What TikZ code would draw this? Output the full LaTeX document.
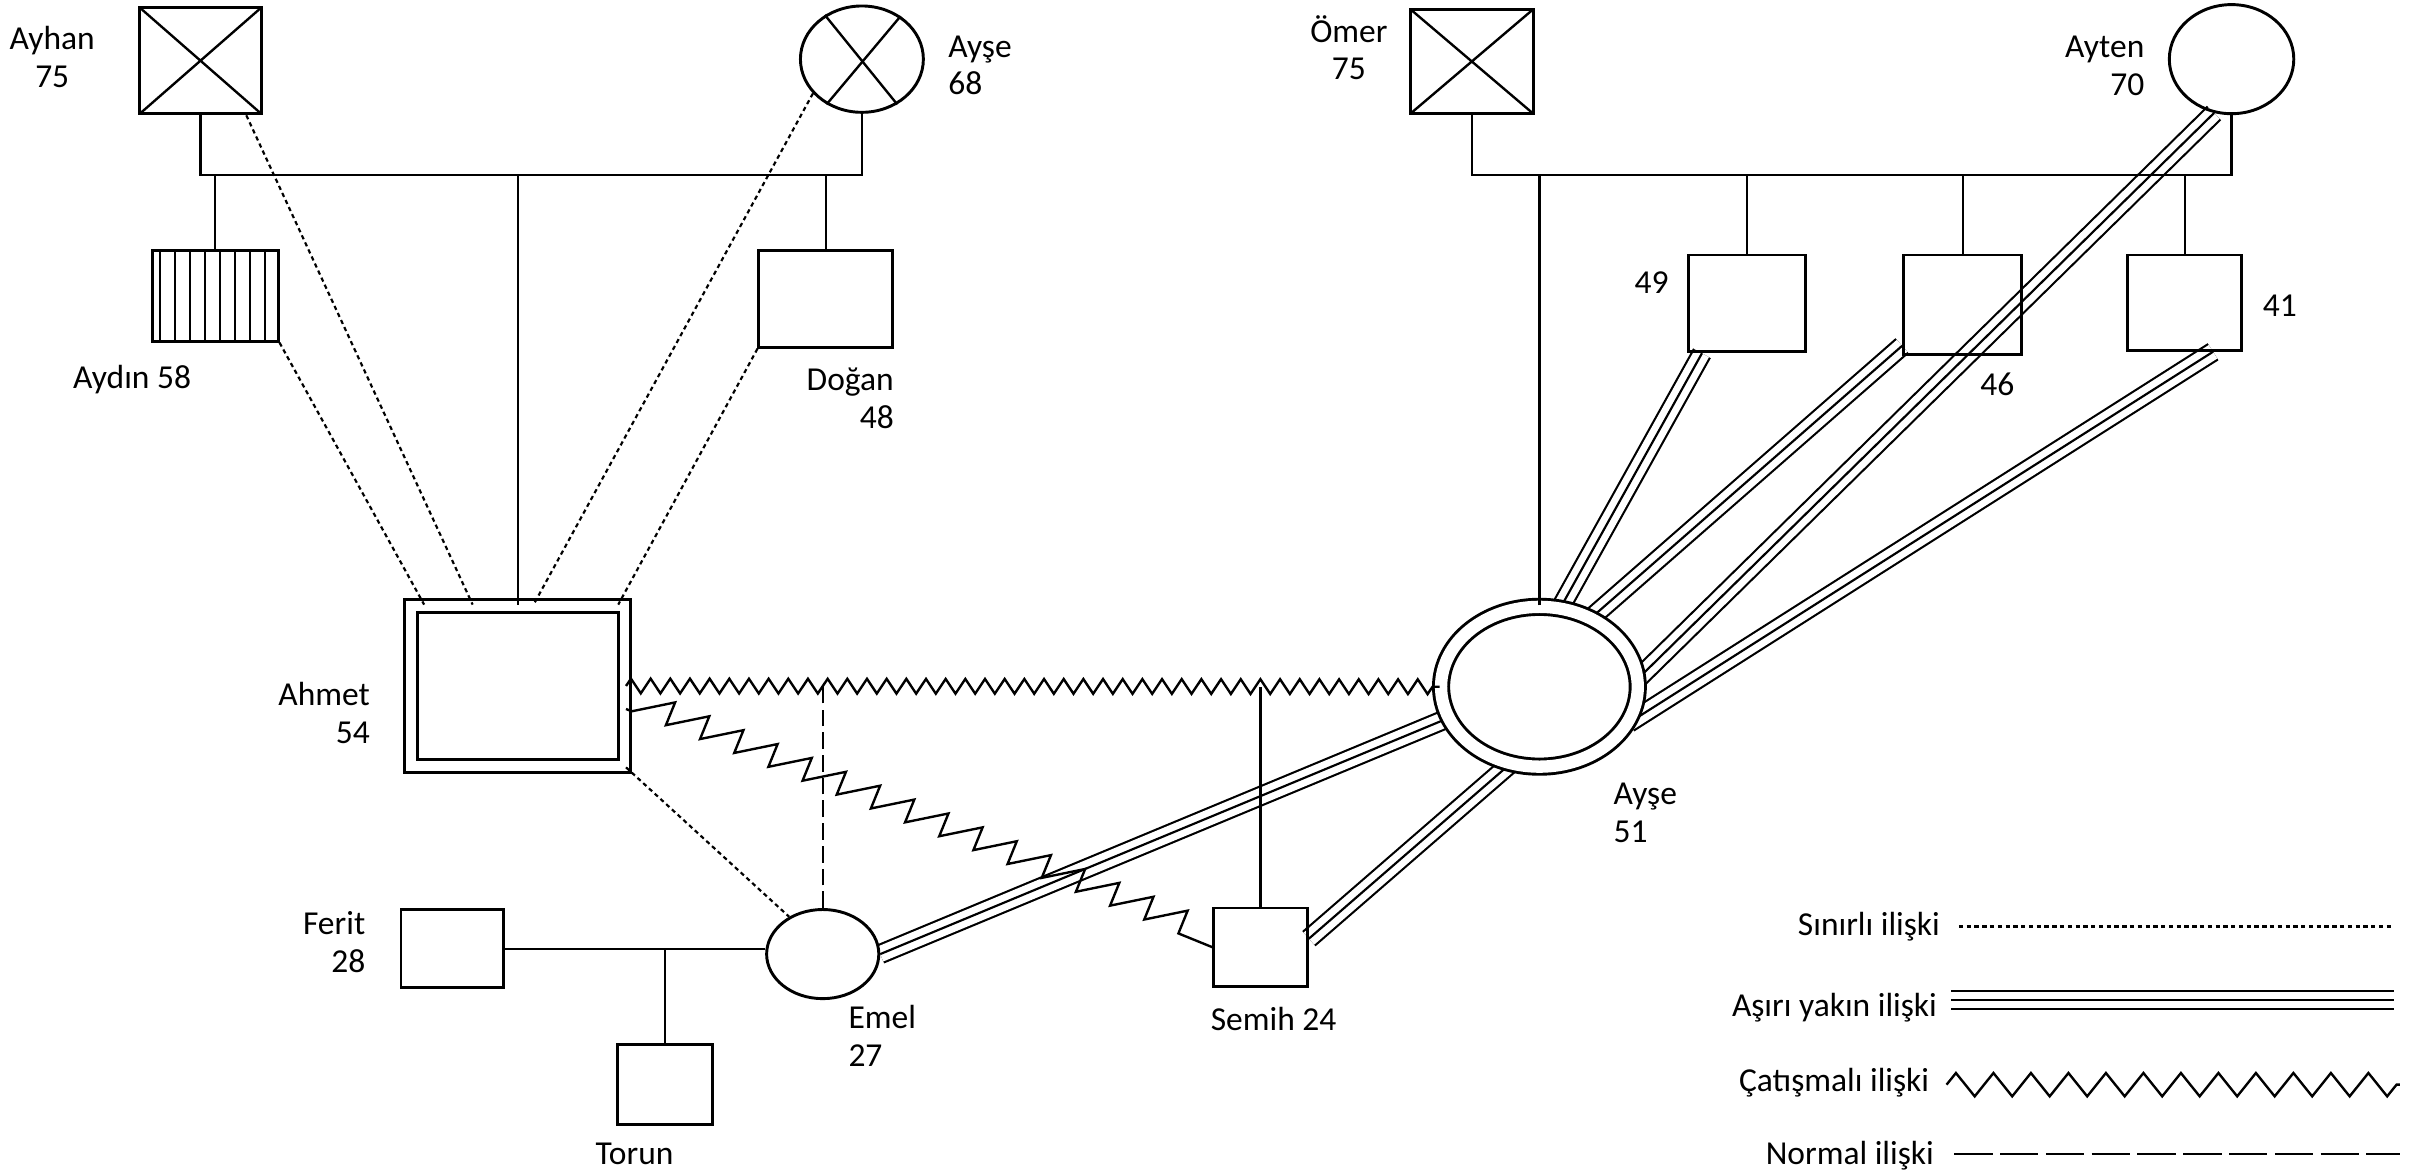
\documentclass[tikz,border=0pt]{standalone}
\usepackage{fontspec}
\setmainfont{Carlito}
\usetikzlibrary{shapes.geometric,decorations.pathmorphing,backgrounds,calc}

\begin{document}
\begin{tikzpicture}[x=0.025cm,y=-0.025cm,
  person/.style={draw,line width=1.35pt,inner sep=0pt},
  erkek/.style={person,rectangle},
  kadin/.style={person,ellipse},
  olu/.style={path picture={\draw[line width=1.1pt] (path picture bounding box.north west) -- (path picture bounding box.south east) (path picture bounding box.south west) -- (path picture bounding box.north east);}},
  lbl/.style={font=\fontsize{15.5}{17.5}\selectfont,inner sep=0pt},
  bag/.style={line width=1.1pt},
  sinirli/.style={line width=1pt,dash pattern=on 2pt off 1.6pt},
  asiri/.style={draw=white,line width=0.26cm,preaction={draw=black,line width=0.33cm},postaction={draw=black,line width=1pt}},
  catis/.style={line width=1.1pt,decorate,decoration={zigzag,segment length=0.32cm,amplitude=0.12cm}},
  testere/.style={line width=1.1pt,decorate,decoration={saw,segment length=0.6cm,amplitude=0.4cm,pre length=0.1cm,post length=0.35cm}},
  normal/.style={line width=1.1pt,dash pattern=on 0.27cm off 0.1cm}]
\useasboundingbox (0,0) rectangle (1568,763);

% kisiler
\node[erkek,olu,minimum width=1.98cm,minimum height=1.73cm] (ayhan) at (130.5,39.5) {};
\node[kadin,minimum width=2.0cm,minimum height=1.73cm] (ayseA) at (561,38.5) {};
\draw[line width=1.1pt] (ayseA.130) -- (ayseA.-52) (ayseA.48) -- (ayseA.232);
\node[erkek,minimum width=2.05cm,minimum height=1.48cm,path picture={\foreach \k in {0,...,7} \draw[line width=1.1pt] ($(path picture bounding box.north west)+(5+9.8*\k,0)$) -- ++(0,70);}] (aydin) at (140,192.5) {};
\node[erkek,minimum width=2.175cm,minimum height=1.575cm] (dogan) at (537.5,194.5) {};
\node[erkek,double,double distance=0.16cm,minimum width=3.475cm,minimum height=2.6cm] (ahmet) at (337,446.5) {};
\node[erkek,olu,minimum width=2.0cm,minimum height=1.7cm] (omer) at (958,40) {};
\node[kadin,minimum width=2.025cm,minimum height=1.775cm] (ayten) at (1452.5,38.5) {};
\node[erkek,minimum width=1.9cm,minimum height=1.575cm] (n49) at (1137,197.5) {};
\node[erkek,minimum width=1.925cm,minimum height=1.625cm] (n46) at (1277.5,198.5) {};
\node[erkek,minimum width=1.85cm,minimum height=1.55cm] (n41) at (1422,197) {};
\node[kadin,double,double distance=0.2cm,minimum width=3.2cm,minimum height=2.6cm] (ayse) at (1002,447) {};
\node[erkek,minimum width=1.675cm,minimum height=1.275cm] (ferit) at (294.5,617.5) {};
\node[kadin,minimum width=1.825cm,minimum height=1.45cm] (emel) at (535.5,621) {};
\node[erkek,minimum width=1.55cm,minimum height=1.3cm] (torun) at (433,706) {};
\node[erkek,minimum width=1.525cm,minimum height=1.275cm] (semih) at (820.5,616.5) {};

% isimler
\node[lbl,align=center] (tAyhan) at (34,37) {Ayhan\\75};
\node[lbl,align=left,anchor=west] (tAyseA) at (617,42.5) {Ayşe\\68};
\node[lbl] (tAydin) at (86,247) {Aydın 58};
\node[lbl,align=right,anchor=east] (tDogan) at (582,259) {Doğan\\48};
\node[lbl,align=right,anchor=east] (tAhmet) at (241,464) {Ahmet\\54};
\node[lbl,align=center] (tOmer) at (878,31) {Ömer\\75};
\node[lbl,align=right,anchor=east] (tAyten) at (1396,43) {Ayten\\70};
\node[lbl] (t49) at (1075,184) {49};
\node[lbl] (t46) at (1300,250) {46};
\node[lbl] (t41) at (1484,199) {41};
\node[lbl,align=left,anchor=west] (tAyse) at (1050,529) {Ayşe\\51};
\node[lbl,align=right,anchor=east] (tFerit) at (238,613) {Ferit\\28};
\node[lbl,align=left,anchor=west] (tEmel) at (552,674) {Emel\\27};
\node[lbl] (tTorun) at (413,751) {Torun};
\node[lbl] (tSemih) at (829,663) {Semih 24};

% asiri yakin iliskiler
\begin{scope}[on background layer]
\draw[asiri] (n49.228) -- (ayse.75);
\draw[asiri] (n46.214) -- (ayse.53);
\draw[asiri] (ayten.252) -- (ayse.5);
\draw[asiri] (n41.-60) -- (ayse.-22);
\draw[asiri] (emel.east) -- (ayse.199);
\draw[asiri] (semih.10) -- (ayse.249);
\end{scope}

% sinirli iliskiler
\draw[sinirli] (ayhan.-50) -- (ahmet.119);
\draw[sinirli] (aydin.south east) -- (ahmet.139);
\draw[sinirli] (ayseA.215) -- (ahmet.79);
\draw[sinirli] (dogan.south west) -- (ahmet.39);
\draw[sinirli] (ahmet.south east) -- (emel.132);

% catismali iliskiler
\draw[catis] (ahmet.east) -- (ayse.west);
\draw[testere] (ahmet.-12) -- (semih.west);

% aile baglari
\coordinate (ust1) at (337,114);
\draw[bag] (ayhan.south) |- (ust1) -| (ayseA.south);
\draw[bag] (aydin.north) -- (aydin.north |- ust1);
\draw[bag] (ahmet.north) -- (ust1);
\draw[bag] (dogan.north) -- (dogan.north |- ust1);
\coordinate (ust2) at (1002,114);
\draw[bag] (omer.south) |- (ust2) -| (ayten.south);
\draw[bag] (ayse.north) -- (ust2);
\foreach \c in {n49,n46,n41} \draw[bag] (\c.north) -- (\c.north |- ust2);
\draw[normal] (emel.north) -- (emel.north |- ayse.west);
\draw[bag] (semih.north) -- (semih.north |- ayse.west);
\draw[bag] (ferit.east) -- (ferit.east -| emel.west);
\draw[bag] (torun.north) -- (torun.north |- ferit.east);

% lejant
\node[lbl,anchor=east] (lg1) at (1263,603) {Sınırlı ilişki};
\coordinate (lg1son) at (1558,603);
\draw[sinirli] ($(lg1son -| lg1.east)+(12,0)$) -- (lg1son);
\node[lbl,anchor=east] (lg2) at (1261,656) {Aşırı yakın ilişki};
\coordinate (lg2son) at (1558,651);
\draw[asiri] ($(lg2son -| lg2.east)+(9,0)$) -- (lg2son);
\node[lbl,anchor=east] (lg3) at (1256,705) {Çatışmalı ilişki};
\coordinate (lg3son) at (1562,706);
\draw[catis,decoration={segment length=0.61cm,amplitude=0.19cm}] ($(lg3son -| lg3.east)+(11,0)$) -- (lg3son);
\node[lbl,anchor=east] (lg4) at (1259,752) {Normal ilişki};
\coordinate (lg4son) at (1562,751);
\draw[normal,dash pattern=on 0.625cm off 0.12cm] ($(lg4son -| lg4.east)+(13,0)$) -- (lg4son);
\end{tikzpicture}
\end{document}
